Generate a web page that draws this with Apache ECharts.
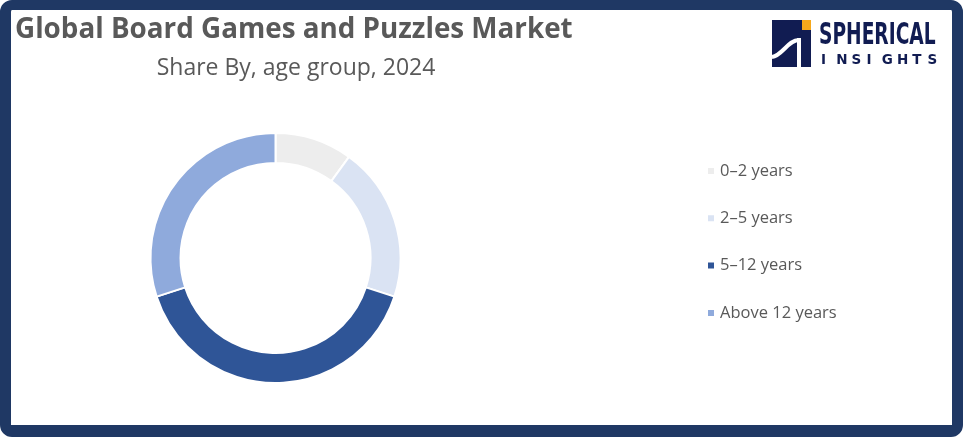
<!DOCTYPE html>
<html><head><meta charset="utf-8">
<script src="https://cdn.jsdelivr.net/npm/echarts@6/dist/echarts.min.js"></script>
<style>
html,body{margin:0;padding:0;background:#fff;}
#frame{position:absolute;left:0;top:0;width:963px;height:437px;box-sizing:border-box;border:solid #1f3864;border-width:10px 11px 12px 11px;border-radius:12px;background:#fff;}
#chart{position:absolute;left:0;top:0;width:963px;height:437px;}
</style></head>
<body>
<div id="frame"></div>
<div id="chart"></div>
<script>
const categories = ["0\u20132 years", "2\u20135 years", "5\u201312 years", "Above 12 years"];
const shares = [10, 20, 40, 30];
const colors = ["#ededed", "#dae3f3", "#2f5597", "#8faadc"];
const titleText = "Global Board Games and Puzzles Market";
const subtitleText = "Share By, age group, 2024";
const logoLetters = ["I","N","S","I","G","H","T","S"];

const chart = echarts.init(document.getElementById('chart'), null, {renderer:'canvas'});
const navy = "#111c52";
const graphics = [
  {type:'rect', shape:{x:772,y:20,width:39,height:47}, style:{fill:navy}},
  {type:'rect', shape:{x:802,y:20,width:9,height:10}, style:{fill:"#f6a81c"}},
  {type:'bezierCurve', shape:{x1:772,y1:57,cpx1:782,cpy1:56,cpx2:788,cpy2:40,x2:799,y2:40}, style:{fill:null, stroke:'#fff', lineWidth:4}},
  {type:'line', shape:{x1:799,y1:38,x2:799,y2:67}, style:{stroke:'#fff', lineWidth:4}},
  {type:'text', x:819, y:21, scaleX:0.69, style:{text:"SPHERICAL", fill:navy, font:"bold 30px 'DejaVu Sans Condensed', 'DejaVu Sans'", textVerticalAlign:'top'}}
];
logoLetters.forEach((ch,i)=>{
  graphics.push({type:'text', x:821+i*15.2, y:53, style:{text:ch, fill:navy, font:"bold 13.5px 'DejaVu Sans'", textVerticalAlign:'top'}});
});

chart.setOption({
  animation:false,
  title:[
    {text:titleText, left:10, top:11, textStyle:{fontFamily:"'Open Sans'", fontWeight:'bold', fontSize:27.8, color:'#595959'}},
    {text:subtitleText, left:291, top:52, textAlign:'center', textStyle:{fontFamily:"'Open Sans'", fontWeight:'normal', fontSize:23, color:'#595959'}}
  ],
  legend:{
    orient:'vertical', left:706, top:161, padding:0, icon:'rect', itemWidth:8, itemHeight:8, itemGap:27.3,
    textStyle:{fontFamily:"'Open Sans'", fontSize:16.5, color:'#595959', lineHeight:20},
    data:categories
  },
  series:[{
    type:'pie', center:[275.5,258], radius:[95,125], startAngle:90, clockwise:true,
    label:{show:false}, labelLine:{show:false}, silent:true,
    itemStyle:{borderColor:'#fff', borderWidth:2},
    data:categories.map((c,i)=>({name:c, value:shares[i], itemStyle:{color:colors[i]}}))
  }],
  graphic:graphics
});
</script>
</body></html>
